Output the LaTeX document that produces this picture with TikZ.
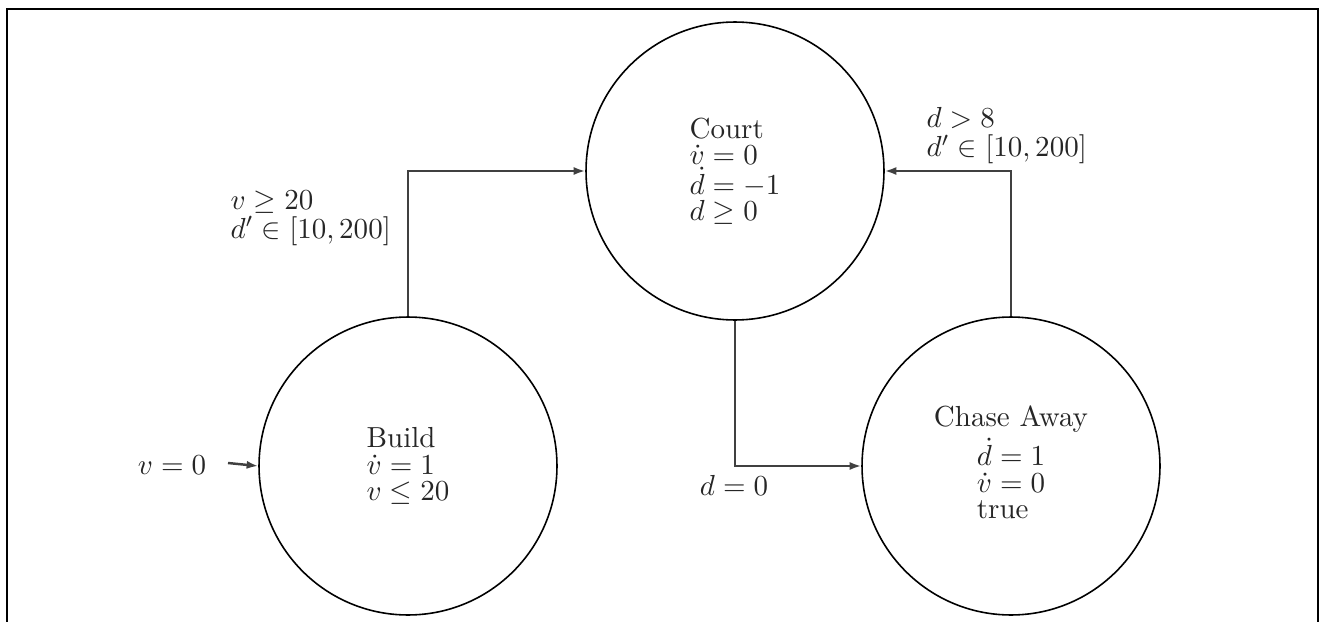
\documentclass[tikz,border=0pt]{standalone}
\usetikzlibrary{arrows.meta}
\begin{document}
\begin{tikzpicture}[x=0.3447pt,y=-0.3447pt,
  state/.style={circle,draw=black,line width=0.55pt,minimum size=102.7pt,inner sep=0pt,
    font=\fontsize{10}{9}\selectfont,text=black!85},
  conn/.style={draw=black!75,line width=0.85pt,-{Latex[length=4pt,width=2.8pt]}},
  lbl/.style={inner sep=0pt,font=\fontsize{10}{10}\selectfont,text=black!85,align=left}]
\useasboundingbox (0,0) rectangle (1320,622);
\draw[line width=0.75pt] (7,9) rectangle (1318,660);
\node[state,align=left] (court) at (735,171) {Court\\ $\dot v = 0$\\ $\dot d = -1$\\ $d \geq 0$};
\node[state,align=left] (build) at (408,466) {Build\\ $\dot v = 1$\\ $v \leq 20$};
\node[state,align=center] (chase) at (1011,466) {Chase Away\\[1pt] \begin{tabular}{@{}l@{}}$\dot d = 1$\\ $\dot v = 0$\\ true\end{tabular}};
\coordinate (init) at (228,463);
\node[lbl,anchor=center] (v0) at (172,465) {$v = 0$};
\node[lbl,anchor=west] (l1) at (230,218) {$v \geq 20$\\ $d' \in [10, 200]$};
\node[lbl,anchor=west] (l2) at (926,136) {$d > 8$\\ $d' \in [10, 200]$};
\node[lbl,anchor=center] (l3) at (734,485) {$d = 0$};
\draw[conn] (init) -- (build.west);
\draw[conn] (build.north) |- (court.west);
\draw[conn] (chase.north) |- (court.east);
\draw[conn] (court.south) |- (chase.west);
\end{tikzpicture}
\end{document}
